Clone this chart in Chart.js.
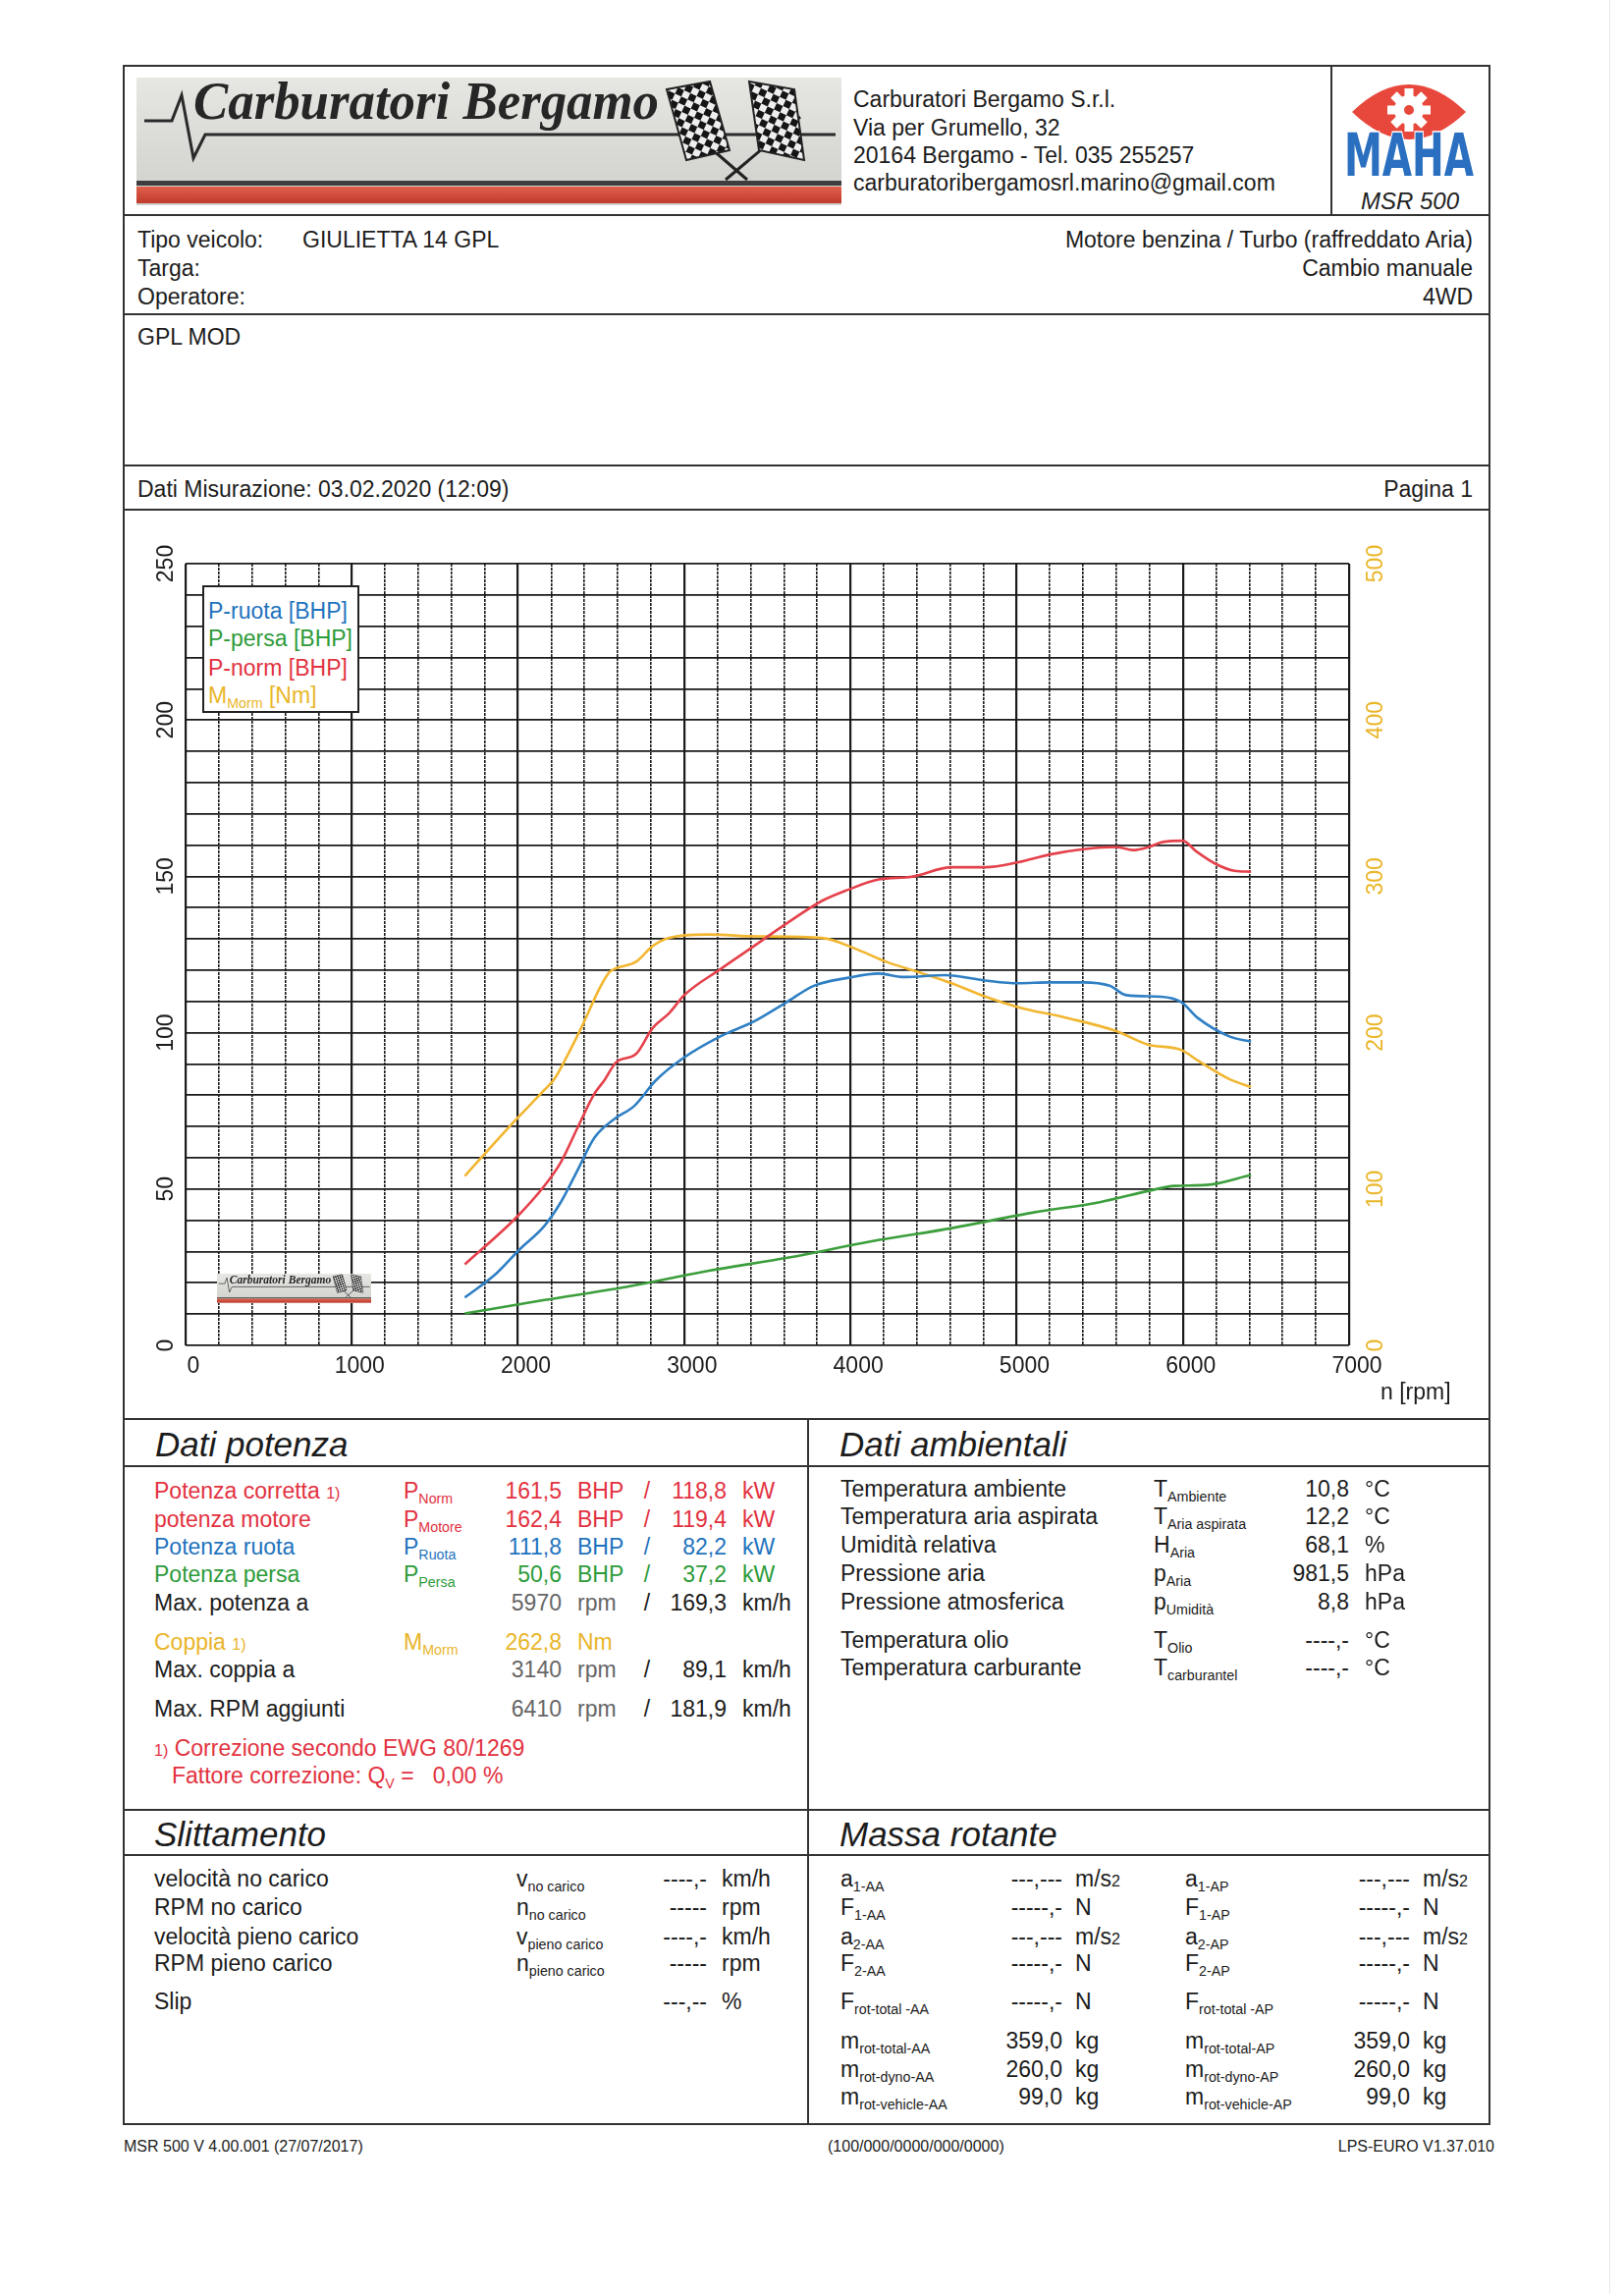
<!DOCTYPE html>
<html lang="it">
<head>
<meta charset="UTF-8">
<title>MSR 500 - GIULIETTA 14 GPL</title>
<script src="https://cdn.jsdelivr.net/npm/chart.js"></script>
<style>
    body { margin: 0; background: #fff; }
    #page { position: relative; width: 1654px; height: 2336px; font-family: "Liberation Sans", Arial, sans-serif; color: #1c1c1c; overflow: hidden; background: #fff; }
    .tx { position: absolute; white-space: nowrap; line-height: 1; font-size: 23px; }
    .ttl { font-style: italic; font-size: 35px; }
    .tx sub { position: relative; top: .38em; font-size: .62em; vertical-align: baseline; }
    .fn { font-size: .7em; }
    .hl { position: absolute; height: 2px; background: #333; }
    .vl { position: absolute; width: 2px; background: #333; }
    #frame { position: absolute; left: 125px; top: 66px; width: 1393px; height: 2098px; border: 2px solid #333; box-sizing: border-box; }
    #dyno { position: absolute; left: 126px; top: 520px; }
    #legend { position: absolute; left: 206px; top: 596px; width: 160px; height: 130px; border: 2px solid #222; background: #fff; box-sizing: border-box; }
    #legend .tx { font-size: 23px; left: 4px; transform: translateY(-50%); }
</style>
</head>
<body>
<div id="page">
    <div id="frame"></div>
    <canvas id="dyno" width="1391" height="924"></canvas>
    <div id="legend">
        <div class="tx" style="top:24px;color:#1f73bd">P-ruota [BHP]</div>
        <div class="tx" style="top:52px;color:#2e9b3a">P-persa [BHP]</div>
        <div class="tx" style="top:82px;color:#e2323f">P-norm [BHP]</div>
        <div class="tx" style="top:110px;color:#eab62a">M<sub>Morm</sub> [Nm]</div>
    </div>
</div>

<script>
    // scale labels
    const rpmLabels = [0, 1000, 2000, 3000, 4000, 5000, 6000, 7000];
    const powerLabels = [0, 50, 100, 150, 200, 250];
    const torqueLabels = [0, 100, 200, 300, 400, 500];

    // P-norm [BHP]
    const rpmNorm = [1680, 1990, 2160, 2260, 2360, 2460, 2520, 2590, 2710, 2810, 2910, 3000, 3220, 3420, 3620, 3830, 3980, 4170, 4370, 4610, 4810, 5010, 5200, 5400, 5600, 5700, 5800, 5880, 6000, 6080, 6200, 6310, 6410];
    const pNorm = [25.9, 40.9, 51.1, 58.8, 69.8, 80.5, 84.8, 90.5, 93.2, 101.5, 106.3, 112.0, 120.4, 127.7, 135.1, 142.2, 145.6, 149.0, 149.9, 152.9, 152.9, 154.5, 157.0, 158.7, 159.4, 158.4, 159.5, 161.0, 161.4, 158.0, 153.9, 151.8, 151.5];

    // P-ruota [BHP]
    const rpmRuota = [1680, 1870, 2010, 2160, 2260, 2360, 2460, 2580, 2700, 2830, 3000, 3220, 3420, 3620, 3780, 3980, 4170, 4320, 4570, 4810, 5010, 5200, 5400, 5560, 5660, 5870, 5990, 6090, 6280, 6410];
    const pRuota = [15.3, 23.0, 30.7, 38.3, 46.0, 56.2, 66.4, 72.4, 76.6, 84.8, 92.1, 98.9, 103.6, 109.9, 115.0, 117.5, 118.9, 117.8, 118.4, 116.7, 115.8, 116.1, 116.1, 115.0, 112.0, 111.5, 109.8, 104.7, 98.8, 97.1];

    // P-persa [BHP]
    const rpmPersa = [1680, 2160, 2650, 3140, 3630, 4120, 4610, 5110, 5500, 5800, 5950, 6140, 6410];
    const pPersa = [10.2, 14.5, 18.7, 23.8, 28.1, 33.2, 37.5, 42.6, 45.8, 49.5, 51.0, 51.3, 54.5];

    // M-norm [Nm]
    const rpmCoppia = [1680, 1960, 2160, 2220, 2300, 2390, 2490, 2550, 2590, 2710, 2810, 2910, 3140, 3440, 3830, 4030, 4220, 4420, 4610, 4810, 5010, 5300, 5600, 5790, 5990, 6090, 6280, 6410];
    const mNorm = [108.3, 141.3, 163.5, 170.5, 186.0, 205.2, 228.2, 238.7, 241.2, 245.4, 255.4, 260.7, 262.8, 261.6, 260.6, 253.7, 245.2, 238.4, 231.6, 223.1, 216.3, 209.5, 201.0, 192.4, 189.0, 182.2, 170.3, 165.2];

    const RED = '#e2323f', BLUE = '#1f73bd', GREEN = '#2e9b3a', ORANGE = '#e9b52a', GRAY = '#666';

    const page = document.getElementById('page');

    function put(x, y, html, opt) {
        opt = opt || {};
        const el = document.createElement('div');
        el.className = 'tx ' + (opt.cls || '');
        el.innerHTML = html;
        el.style.left = x + 'px';
        el.style.top = y + 'px';
        const tx = opt.align === 'right' ? '-100%' : (opt.align === 'center' ? '-50%' : '0');
        el.style.transform = 'translate(' + tx + ',-50%)';
        if (opt.color) el.style.color = opt.color;
        if (opt.size) el.style.fontSize = opt.size + 'px';
        page.appendChild(el);
    }
    function hline(y, x1, x2) {
        const d = document.createElement('div');
        d.className = 'hl';
        d.style.left = x1 + 'px'; d.style.width = (x2 - x1) + 'px'; d.style.top = (y - 1) + 'px';
        page.appendChild(d);
    }
    function vline(x, y1, y2) {
        const d = document.createElement('div');
        d.className = 'vl';
        d.style.left = (x - 1) + 'px'; d.style.top = y1 + 'px'; d.style.height = (y2 - y1) + 'px';
        page.appendChild(d);
    }
    function svgBox(x, y, w, h, svg) {
        const d = document.createElement('div');
        d.style.cssText = 'position:absolute;left:' + x + 'px;top:' + y + 'px;width:' + w + 'px;height:' + h + 'px';
        d.innerHTML = svg;
        page.appendChild(d);
    }

    function logoSvg(w, h, id) {
        return '<svg width="' + w + '" height="' + h + '" viewBox="0 0 718 130" preserveAspectRatio="none">' +
            '<defs><linearGradient id="bg' + id + '" x1="0" y1="0" x2="0" y2="1"><stop offset="0" stop-color="#e6e6e2"/><stop offset="1" stop-color="#cfd0cc"/></linearGradient>' +
            '<linearGradient id="rd' + id + '" x1="0" y1="0" x2="0" y2="1"><stop offset="0" stop-color="#e0614c"/><stop offset="1" stop-color="#c0392c"/></linearGradient>' +
            '<pattern id="ck' + id + '" width="14" height="14" patternUnits="userSpaceOnUse" patternTransform="rotate(25)">' +
            '<rect width="14" height="14" fill="#eee"/><rect width="7" height="7" fill="#151515"/><rect x="7" y="7" width="7" height="7" fill="#151515"/></pattern></defs>' +
            '<rect width="718" height="130" fill="url(#bg' + id + ')"/>' +
            '<polyline points="8,44 36,44 46,18 58,82 70,58 712,58" fill="none" stroke="#2a2a2a" stroke-width="3"/>' +
            '<text x="58" y="42" font-family="Liberation Serif, DejaVu Serif, serif" font-weight="bold" font-style="italic" font-size="54" fill="#262626" textLength="474" lengthAdjust="spacingAndGlyphs">Carburatori Bergamo</text>' +
            '<line x1="548" y1="40" x2="622" y2="104" stroke="#222" stroke-width="3"/>' +
            '<line x1="676" y1="40" x2="600" y2="104" stroke="#222" stroke-width="3"/>' +
            '<polygon points="540,12 584,4 604,74 560,84" fill="url(#ck' + id + ')" stroke="#222" stroke-width="2"/>' +
            '<polygon points="624,4 670,12 680,84 634,74" fill="url(#ck' + id + ')" stroke="#222" stroke-width="2"/>' +
            '<rect x="0" y="105" width="718" height="5" fill="#3e3e3e"/>' +
            '<rect x="0" y="111" width="718" height="17" fill="url(#rd' + id + ')"/>' +
            '</svg>';
    }

    function mahaSvg() {
        let teeth = '';
        for (let i = 0; i < 8; i++) {
            teeth += '<rect x="-4.5" y="-22" width="9" height="10" fill="#fff" transform="rotate(' + (i * 45) + ')"/>';
        }
        return '<svg width="160" height="150" viewBox="0 0 160 150">' +
            '<path d="M20,46 Q78,-10 136,46 Q78,102 20,46 Z" fill="#e8483c"/>' +
            '<g transform="translate(78,44)"><circle r="15" fill="#fff"/>' + teeth + '<circle r="5" fill="#e8483c"/></g>' +
            '<text x="78" y="111" text-anchor="middle" font-family="DejaVu Sans, sans-serif" font-weight="bold" font-size="60" fill="#2a6fc0" stroke="#fff" stroke-width="3" paint-order="stroke" textLength="132" lengthAdjust="spacingAndGlyphs">MAHA</text>' +
            '<text x="79" y="145" text-anchor="middle" font-family="Liberation Sans, Arial, sans-serif" font-style="italic" font-size="24" fill="#222">MSR 500</text>' +
            '</svg>';
    }

    // frame lines
    [219, 320, 474, 519, 1445, 1493, 1843, 1889].forEach(y => hline(y, 125, 1518));
    vline(1356, 66, 219);
    vline(823, 1445, 2164);
    // faint scan edge
    const edge = document.createElement('div');
    edge.style.cssText = 'position:absolute;left:1639px;top:0;width:1px;height:2336px;background:#e6e6e6';
    page.appendChild(edge);

    // header
    svgBox(139, 79, 718, 130, logoSvg(718, 130, 'a'));
    svgBox(1357, 68, 160, 150, mahaSvg());
    put(869, 101, 'Carburatori Bergamo S.r.l.');
    put(869, 130, 'Via per Grumello, 32');
    put(869, 158, '20164 Bergamo - Tel. 035 255257');
    put(869, 186, 'carburatoribergamosrl.marino@gmail.com');

    // vehicle
    put(140, 244, 'Tipo veicolo:');
    put(308, 244, 'GIULIETTA 14 GPL');
    put(140, 273, 'Targa:');
    put(140, 302, 'Operatore:');
    put(1500, 244, 'Motore benzina / Turbo (raffreddato Aria)', { align: 'right' });
    put(1500, 273, 'Cambio manuale', { align: 'right' });
    put(1500, 302, '4WD', { align: 'right' });
    put(140, 343, 'GPL MOD');
    put(140, 498, 'Dati Misurazione: 03.02.2020 (12:09)');
    put(1500, 498, 'Pagina 1', { align: 'right' });

    // chart extras
    svgBox(221, 1297, 157, 30, logoSvg(157, 30, 'b'));
    put(1406, 1417, 'n [rpm]', { size: 23 });

    // Dati potenza
    put(158, 1470, 'Dati potenza', { cls: 'ttl' });
    put(855, 1470, 'Dati ambientali', { cls: 'ttl' });
    const potRows = [
        [1518, 'Potenza corretta <span class="fn">1)</span>', 'P<sub>Norm</sub>', '161,5', 'BHP', '118,8', 'kW', RED, RED, RED],
        [1547, 'potenza motore', 'P<sub>Motore</sub>', '162,4', 'BHP', '119,4', 'kW', RED, RED, RED],
        [1575, 'Potenza ruota', 'P<sub>Ruota</sub>', '111,8', 'BHP', '82,2', 'kW', BLUE, BLUE, BLUE],
        [1603, 'Potenza persa', 'P<sub>Persa</sub>', '50,6', 'BHP', '37,2', 'kW', GREEN, GREEN, GREEN],
        [1632, 'Max. potenza a', '', '5970', 'rpm', '169,3', 'km/h', '#1c1c1c', GRAY, '#1c1c1c'],
        [1672, 'Coppia <span class="fn">1)</span>', 'M<sub>Morm</sub>', '262,8', 'Nm', '', '', ORANGE, ORANGE, ORANGE],
        [1700, 'Max. coppia a', '', '3140', 'rpm', '89,1', 'km/h', '#1c1c1c', GRAY, '#1c1c1c'],
        [1740, 'Max. RPM aggiunti', '', '6410', 'rpm', '181,9', 'km/h', '#1c1c1c', GRAY, '#1c1c1c']
    ];
    potRows.forEach(r => {
        put(157, r[0], r[1], { color: r[7] });
        if (r[2]) put(411, r[0], r[2], { color: r[7] });
        put(572, r[0], r[3], { align: 'right', color: r[8] });
        put(588, r[0], r[4], { color: r[8] });
        if (r[5]) {
            put(659, r[0], '/', { align: 'center', color: r[9] });
            put(740, r[0], r[5], { align: 'right', color: r[9] });
            put(756, r[0], r[6], { color: r[9] });
        }
    });
    put(157, 1780, '<span class="fn">1)</span> Correzione secondo EWG 80/1269', { color: RED });
    put(175, 1808, 'Fattore correzione: Q<sub>V</sub> =&nbsp;&nbsp; 0,00 %', { color: RED });

    // Dati ambientali
    const ambRows = [
        [1516, 'Temperatura ambiente', 'T<sub>Ambiente</sub>', '10,8', '°C'],
        [1544, 'Temperatura aria aspirata', 'T<sub>Aria aspirata</sub>', '12,2', '°C'],
        [1573, 'Umidità relativa', 'H<sub>Aria</sub>', '68,1', '%'],
        [1602, 'Pressione aria', 'p<sub>Aria</sub>', '981,5', 'hPa'],
        [1631, 'Pressione atmosferica', 'p<sub>Umidità</sub>', '8,8', 'hPa'],
        [1670, 'Temperatura olio', 'T<sub>Olio</sub>', '----,-', '°C'],
        [1698, 'Temperatura carburante', 'T<sub>carburantel</sub>', '----,-', '°C']
    ];
    ambRows.forEach(r => {
        put(856, r[0], r[1]);
        put(1175, r[0], r[2]);
        put(1374, r[0], r[3], { align: 'right' });
        put(1390, r[0], r[4]);
    });

    // Slittamento / Massa rotante
    put(157, 1867, 'Slittamento', { cls: 'ttl' });
    put(855, 1867, 'Massa rotante', { cls: 'ttl' });
    const slipRows = [
        [1913, 'velocità no carico', 'v<sub>no carico</sub>', '----,-', 'km/h'],
        [1942, 'RPM no carico', 'n<sub>no carico</sub>', '-----', 'rpm'],
        [1972, 'velocità pieno carico', 'v<sub>pieno carico</sub>', '----,-', 'km/h'],
        [1999, 'RPM pieno carico', 'n<sub>pieno carico</sub>', '-----', 'rpm'],
        [2038, 'Slip', '', '---,--', '%']
    ];
    slipRows.forEach(r => {
        put(157, r[0], r[1]);
        if (r[2]) put(526, r[0], r[2]);
        put(720, r[0], r[3], { align: 'right' });
        put(735, r[0], r[4]);
    });
    const ms2 = 'm/s<span class="fn">2</span>';
    const massRows = [
        [1913, 'a<sub>1-AA</sub>', '---,---', ms2, 'a<sub>1-AP</sub>', '---,---', ms2],
        [1942, 'F<sub>1-AA</sub>', '-----,-', 'N', 'F<sub>1-AP</sub>', '-----,-', 'N'],
        [1972, 'a<sub>2-AA</sub>', '---,---', ms2, 'a<sub>2-AP</sub>', '---,---', ms2],
        [1999, 'F<sub>2-AA</sub>', '-----,-', 'N', 'F<sub>2-AP</sub>', '-----,-', 'N'],
        [2038, 'F<sub>rot-total -AA</sub>', '-----,-', 'N', 'F<sub>rot-total -AP</sub>', '-----,-', 'N'],
        [2078, 'm<sub>rot-total-AA</sub>', '359,0', 'kg', 'm<sub>rot-total-AP</sub>', '359,0', 'kg'],
        [2107, 'm<sub>rot-dyno-AA</sub>', '260,0', 'kg', 'm<sub>rot-dyno-AP</sub>', '260,0', 'kg'],
        [2135, 'm<sub>rot-vehicle-AA</sub>', '99,0', 'kg', 'm<sub>rot-vehicle-AP</sub>', '99,0', 'kg']
    ];
    massRows.forEach(r => {
        put(856, r[0], r[1]);
        put(1082, r[0], r[2], { align: 'right' });
        put(1095, r[0], r[3]);
        put(1207, r[0], r[4]);
        put(1436, r[0], r[5], { align: 'right' });
        put(1449, r[0], r[6]);
    });

    // footer
    put(126, 2186, 'MSR 500 V 4.00.001 (27/07/2017)', { size: 16 });
    put(843, 2186, '(100/000/0000/000/0000)', { size: 16 });
    put(1522, 2186, 'LPS-EURO V1.37.010', { align: 'right', size: 16 });

    // chart
    const pts = (xs, ys) => xs.map((x, i) => ({ x: x, y: ys[i] }));
    const line = (label, xs, ys, color, axis) => ({
        label: label, data: pts(xs, ys), borderColor: color, borderWidth: 2.6,
        pointRadius: 0, cubicInterpolationMode: 'monotone', yAxisID: axis, fill: false
    });

    const tickFont = { family: 'Liberation Sans, Arial, sans-serif', size: 23 };

    new Chart(document.getElementById('dyno'), {
        type: 'line',
        data: {
            datasets: [
                line('P-persa [BHP]', rpmPersa, pPersa, '#3c9e3c', 'y'),
                line('P-ruota [BHP]', rpmRuota, pRuota, '#2f7fc4', 'y'),
                line('P-norm [BHP]', rpmNorm, pNorm, '#e4414b', 'y'),
                line('M-Morm [Nm]', rpmCoppia, mNorm, '#f2b630', 'y2')
            ]
        },
        options: {
            responsive: false,
            animation: false,
            devicePixelRatio: 1,
            layout: { padding: { top: 54, left: 0, right: 0, bottom: 0 } },
            plugins: { legend: { display: false }, tooltip: { enabled: false } },
            scales: {
                x: {
                    type: 'linear', min: 0, max: 7000, position: 'bottom',
                    ticks: {
                        stepSize: 200, maxTicksLimit: 100, autoSkip: false, maxRotation: 0,
                        callback: v => rpmLabels.includes(v) ? String(v) : '',
                        font: tickFont, color: '#1c1c1c', padding: 8, labelOffset: 8
                    },
                    grid: {
                        color: '#1a1a1a', drawTicks: false,
                        lineWidth: c => (c.tick && c.tick.value % 1000 === 0) ? 2.2 : 1.6
                    },
                    border: { display: false, dash: c => (c.tick && c.tick.value % 1000 !== 0) ? [3, 1] : [] },
                    afterFit: s => { s.height = 74; }
                },
                y: {
                    type: 'linear', min: 0, max: 250, position: 'left',
                    ticks: {
                        stepSize: 10, maxTicksLimit: 100, autoSkip: false,
                        minRotation: 90, maxRotation: 90, crossAlign: 'center',
                        callback: v => powerLabels.includes(v) ? String(v) : '',
                        font: tickFont, color: '#1c1c1c', padding: 0
                    },
                    grid: { color: '#1a1a1a', lineWidth: 1.7, drawTicks: false },
                    border: { display: false },
                    afterFit: s => { s.width = 63; }
                },
                y2: {
                    type: 'linear', min: 0, max: 500, position: 'right',
                    ticks: {
                        stepSize: 100, autoSkip: false,
                        minRotation: 90, maxRotation: 90, crossAlign: 'center',
                        callback: v => torqueLabels.includes(v) ? String(v) : '',
                        font: tickFont, color: '#eab62a', padding: 8
                    },
                    grid: { display: false, drawTicks: false },
                    border: { display: false },
                    afterFit: s => { s.width = 143; }
                }
            }
        }
    });

    // keep overlays above the canvas
    page.appendChild(document.getElementById('legend'));
</script>
</body>
</html>
